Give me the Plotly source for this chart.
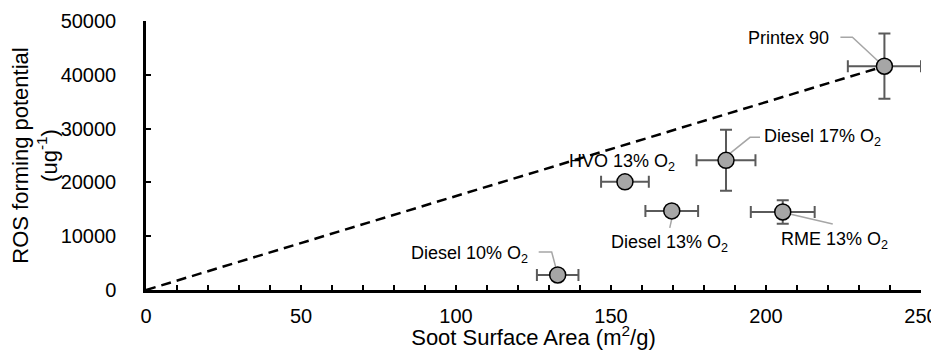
import plotly.graph_objects as go

# ---- data ----
labels = ["Diesel 10% O<sub>2</sub>", "HVO 13% O<sub>2</sub>", "Diesel 13% O<sub>2</sub>",
          "Diesel 17% O<sub>2</sub>", "RME 13% O<sub>2</sub>", "Printex 90"]
surface_area = [132.8, 154.5, 169.6, 187.1, 205.4, 238.2]
ros_potential = [2800, 20100, 14700, 24100, 14500, 41600]
surface_area_err = [6.7, 7.7, 8.5, 9.5, 10.3, 11.8]
ros_potential_err = [900, 700, 1000, 5670, 2170, 6070]
trend_x = [0, 238.2]
trend_y = [0, 41600]

# ---- label layout (pixel offsets from point: text centre, leader path; y up) ----
label_shift = [(-88, 20), (-3, 19), (-2, -33), (96, 23), (52, -29), (-96, 28)]
leader_paths = [
    "M -19,23 L -6,23 L -2,8",
    None,
    "M 0,-8 L -2,-17",
    "M 34,23 L 24,23 L 4,7",
    "M 7,-2 L 50,-12",
    "M -44,29 L -32,29 L -4,3",
]

FONT = "Liberation Sans, Arial, sans-serif"

fig = go.Figure()
fig.add_trace(go.Scatter(
    x=trend_x, y=trend_y, mode="lines",
    line=dict(color="black", width=2.5, dash="10px,6px"),
    showlegend=False, hoverinfo="skip"))

fig.add_trace(go.Scatter(
    x=surface_area, y=ros_potential, mode="markers",
    marker=dict(size=16, color="#a6a6a6", line=dict(color="black", width=1.5)),
    error_x=dict(type="data", array=surface_area_err, color="#5a5a5a", thickness=2, width=6),
    error_y=dict(type="data", array=ros_potential_err, color="#5a5a5a", thickness=2, width=6),
    text=labels, showlegend=False))

for xv, yv, lab, (dx, dy), p in zip(surface_area, ros_potential, labels, label_shift, leader_paths):
    fig.add_annotation(x=xv, y=yv, xref="x", yref="y", text=lab, showarrow=False,
                       xshift=dx, yshift=dy, font=dict(family=FONT, size=18, color="black"))
    if p:
        fig.add_shape(type="path", xref="x", yref="y", xsizemode="pixel", ysizemode="pixel",
                      xanchor=xv, yanchor=yv, path=p,
                      line=dict(color="#a6a6a6", width=1.5), layer="below")

fig.update_layout(
    width=931, height=342,
    margin=dict(l=138, r=18, t=13, b=60),
    paper_bgcolor="white", plot_bgcolor="white",
    font=dict(family=FONT, color="black"),
    xaxis=dict(
        range=[0, 250], dtick=50, tick0=0, tickformat="d",
        showgrid=False, zeroline=False, automargin=False,
        showline=True, linecolor="black", linewidth=2.5,
        ticks="inside", ticklen=5, tickwidth=1.5, tickcolor="black",
        minor=dict(dtick=10, ticks="inside", ticklen=5, tickwidth=1.5, tickcolor="black"),
        tickfont=dict(family=FONT, size=20, color="black"),
        ticklabelstandoff=6,
        title=dict(text="Soot Surface Area (m<sup>2</sup>/g)", standoff=0,
                   font=dict(family=FONT, size=22, color="black")),
    ),
    yaxis=dict(
        range=[0, 50000], dtick=10000, tick0=0, tickformat="d",
        showgrid=False, zeroline=False, automargin=False,
        showline=True, linecolor="black", linewidth=2.5,
        ticks="inside", ticklen=5, tickwidth=1.5, tickcolor="black",
        tickfont=dict(family=FONT, size=20, color="black"),
        ticklabelstandoff=23,
        title=dict(text="ROS forming potential<br>(ug<sup>-1</sup>)", standoff=2,
                   font=dict(family=FONT, size=22, color="black")),
    ),
)

fig.write_html("out.html")
